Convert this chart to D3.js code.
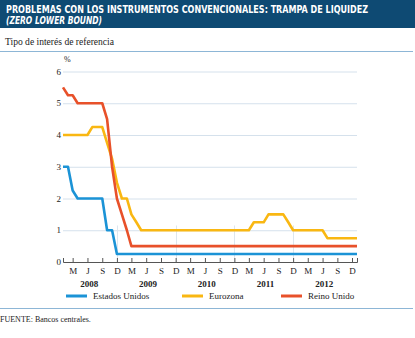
<!DOCTYPE html>
<html>
<head>
<meta charset="utf-8">
<script src="https://cdn.jsdelivr.net/npm/d3@7"></script>
<style>
  html, body { margin: 0; padding: 0; background: #fff; }
  svg { display: block; }
  .serif { font-family: "Liberation Serif", "DejaVu Serif", serif; }
</style>
</head>
<body>
<div id="chart"></div>
<script>
// monthly policy rates, Jan 2008 .. Jan 2013 (end-of-month level)
let usRates = [
    3.00, 3.00, 2.25, 2.00, 2.00, 2.00, 2.00, 2.00, 2.00, 1.00, 1.00, 0.25,
    0.25, 0.25, 0.25, 0.25, 0.25, 0.25, 0.25, 0.25, 0.25, 0.25, 0.25, 0.25,
    0.25, 0.25, 0.25, 0.25, 0.25, 0.25, 0.25, 0.25, 0.25, 0.25, 0.25, 0.25,
    0.25, 0.25, 0.25, 0.25, 0.25, 0.25, 0.25, 0.25, 0.25, 0.25, 0.25, 0.25,
    0.25, 0.25, 0.25, 0.25, 0.25, 0.25, 0.25, 0.25, 0.25, 0.25, 0.25, 0.25,
    0.25
];
let euroRates = [
    4.00, 4.00, 4.00, 4.00, 4.00, 4.00, 4.25, 4.25, 4.25, 3.75, 3.25, 2.50,
    2.00, 2.00, 1.50, 1.25, 1.00, 1.00, 1.00, 1.00, 1.00, 1.00, 1.00, 1.00,
    1.00, 1.00, 1.00, 1.00, 1.00, 1.00, 1.00, 1.00, 1.00, 1.00, 1.00, 1.00,
    1.00, 1.00, 1.00, 1.25, 1.25, 1.25, 1.50, 1.50, 1.50, 1.50, 1.25, 1.00,
    1.00, 1.00, 1.00, 1.00, 1.00, 1.00, 0.75, 0.75, 0.75, 0.75, 0.75, 0.75,
    0.75
];
let ukRates = [
    5.50, 5.25, 5.25, 5.00, 5.00, 5.00, 5.00, 5.00, 5.00, 4.50, 3.00, 2.00,
    1.50, 1.00, 0.50, 0.50, 0.50, 0.50, 0.50, 0.50, 0.50, 0.50, 0.50, 0.50,
    0.50, 0.50, 0.50, 0.50, 0.50, 0.50, 0.50, 0.50, 0.50, 0.50, 0.50, 0.50,
    0.50, 0.50, 0.50, 0.50, 0.50, 0.50, 0.50, 0.50, 0.50, 0.50, 0.50, 0.50,
    0.50, 0.50, 0.50, 0.50, 0.50, 0.50, 0.50, 0.50, 0.50, 0.50, 0.50, 0.50,
    0.50
];

let years = [2008, 2009, 2010, 2011, 2012];
let monthTicks = [2, 5, 8, 11];            // Mar, Jun, Sep, Dec
let monthLabels = ["M", "J", "S", "D"];
let yTicks = [0, 1, 2, 3, 4, 5, 6];

let seriesNames = ["Estados Unidos", "Eurozona", "Reino Unido"];
let seriesColors = ["#1b93d6", "#f9b712", "#e8512a"];

let width = 415, height = 338;

let svg = d3.select("#chart").append("svg")
    .attr("width", width)
    .attr("height", height);

// header band
svg.append("rect")
    .attr("x", 0).attr("y", 0)
    .attr("width", width).attr("height", 28)
    .style("fill", "#0e4a73");

svg.append("text")
    .attr("x", 6).attr("y", 13)
    .attr("textLength", 362)
    .attr("lengthAdjust", "spacingAndGlyphs")
    .style("font-family", "'DejaVu Sans Condensed', 'DejaVu Sans', sans-serif")
    .style("font-weight", "bold")
    .style("font-size", "10px")
    .style("fill", "#fff")
    .text("PROBLEMAS CON LOS INSTRUMENTOS CONVENCIONALES: TRAMPA DE LIQUIDEZ");

svg.append("text")
    .attr("x", 6).attr("y", 24)
    .attr("textLength", 96)
    .attr("lengthAdjust", "spacingAndGlyphs")
    .style("font-family", "'DejaVu Sans Condensed', 'DejaVu Sans', sans-serif")
    .style("font-weight", "bold")
    .style("font-style", "italic")
    .style("font-size", "10px")
    .style("fill", "#fff")
    .text("(ZERO LOWER BOUND)");

svg.append("text")
    .attr("class", "serif")
    .attr("x", 5).attr("y", 44.5)
    .attr("textLength", 109)
    .attr("lengthAdjust", "spacingAndGlyphs")
    .style("font-size", "10.5px")
    .style("fill", "#1a1a1a")
    .text("Tipo de interés de referencia");

svg.append("line")
    .attr("x1", 0).attr("x2", 413)
    .attr("y1", 51.5).attr("y2", 51.5)
    .style("stroke", "#8db6d6")
    .style("stroke-width", 1);

// scales
let x = d3.scaleTime()
    .domain([new Date(2008, 0, 1), new Date(2013, 0, 1)])
    .range([63, 357]);

let y = d3.scaleLinear()
    .domain([0, 6])
    .range([262, 71.5]);

let monthDate = i => new Date(2008, i, 1);

// horizontal grid
svg.append("g")
    .selectAll("line")
    .data(yTicks.filter(d => d > 0))
    .enter().append("line")
    .attr("x1", x.range()[0]).attr("x2", x.range()[1])
    .attr("y1", d => y(d) + 0.5).attr("y2", d => y(d) + 0.5)
    .style("stroke", "#d5e1ec")
    .style("stroke-width", 1);

// short year separators near the base
svg.append("g")
    .selectAll("line")
    .data(years.slice(0, -1))
    .enter().append("line")
    .attr("x1", d => Math.round(x(new Date(d, 11, 1))) + 0.5)
    .attr("x2", d => Math.round(x(new Date(d, 11, 1))) + 0.5)
    .attr("y1", y(1.15)).attr("y2", y(0))
    .style("stroke", "#dde6ee")
    .style("stroke-width", 1);

// y labels
svg.append("g")
    .selectAll("text")
    .data(yTicks)
    .enter().append("text")
    .attr("class", "serif")
    .attr("x", 61)
    .attr("y", d => y(d) + 3)
    .attr("text-anchor", "end")
    .style("font-size", "9px")
    .style("fill", "#222")
    .text(d => d);

svg.append("text")
    .attr("class", "serif")
    .attr("x", 64).attr("y", 62)
    .style("font-size", "8px")
    .style("fill", "#222")
    .text("%");

// x axis
let tickDates = [];
years.forEach(yr => monthTicks.forEach(m => tickDates.push(new Date(yr, m, 1))));

let xAxis = svg.append("g")
    .attr("transform", "translate(0," + y(0) + ")")
    .call(d3.axisBottom(x)
        .tickValues(tickDates)
        .tickSizeInner(-4)
        .tickSizeOuter(-4)
        .tickPadding(6)
        .tickFormat(d => monthLabels[monthTicks.indexOf(d.getMonth())]));

xAxis.select(".domain").style("stroke", "#555");
xAxis.selectAll(".tick line").style("stroke", "#555");
xAxis.selectAll(".tick text")
    .attr("class", "serif")
    .attr("dy", "0.71em")
    .style("font-size", "9px")
    .style("fill", "#222");

svg.append("g")
    .selectAll("text")
    .data(years)
    .enter().append("text")
    .attr("class", "serif")
    .attr("x", d => x(new Date(d, 5, 12)))
    .attr("y", 287)
    .attr("text-anchor", "middle")
    .style("font-size", "9px")
    .style("font-weight", "bold")
    .style("fill", "#222")
    .text(d => d);

// rate lines
let series = [usRates, euroRates, ukRates];

let line = d3.line()
    .x((d, i) => x(monthDate(i)))
    .y(d => y(d));

svg.append("g")
    .selectAll("path")
    .data(series)
    .enter().append("path")
    .attr("d", line)
    .style("fill", "none")
    .style("stroke", (d, i) => seriesColors[i])
    .style("stroke-width", 2.6)
    .style("stroke-linejoin", "round");

// legend
let legendX = [66, 182, 281];

let legend = svg.append("g")
    .selectAll("g")
    .data(seriesNames)
    .enter().append("g")
    .attr("transform", (d, i) => "translate(" + legendX[i] + ",296)");

legend.append("line")
    .attr("x1", 0).attr("x2", 21)
    .attr("y1", 0).attr("y2", 0)
    .style("stroke", (d, i) => seriesColors[i])
    .style("stroke-width", 3);

legend.append("text")
    .attr("class", "serif")
    .attr("x", 27).attr("y", 3)
    .style("font-size", "9px")
    .style("fill", "#222")
    .text(d => d);

svg.append("line")
    .attr("x1", 0).attr("x2", 413)
    .attr("y1", 308.5).attr("y2", 308.5)
    .style("stroke", "#8db6d6")
    .style("stroke-width", 1);

svg.append("text")
    .attr("class", "serif")
    .attr("x", 0).attr("y", 322)
    .style("font-size", "8px")
    .style("fill", "#1a1a1a")
    .text("FUENTE: Bancos centrales.");
</script>
</body>
</html>
